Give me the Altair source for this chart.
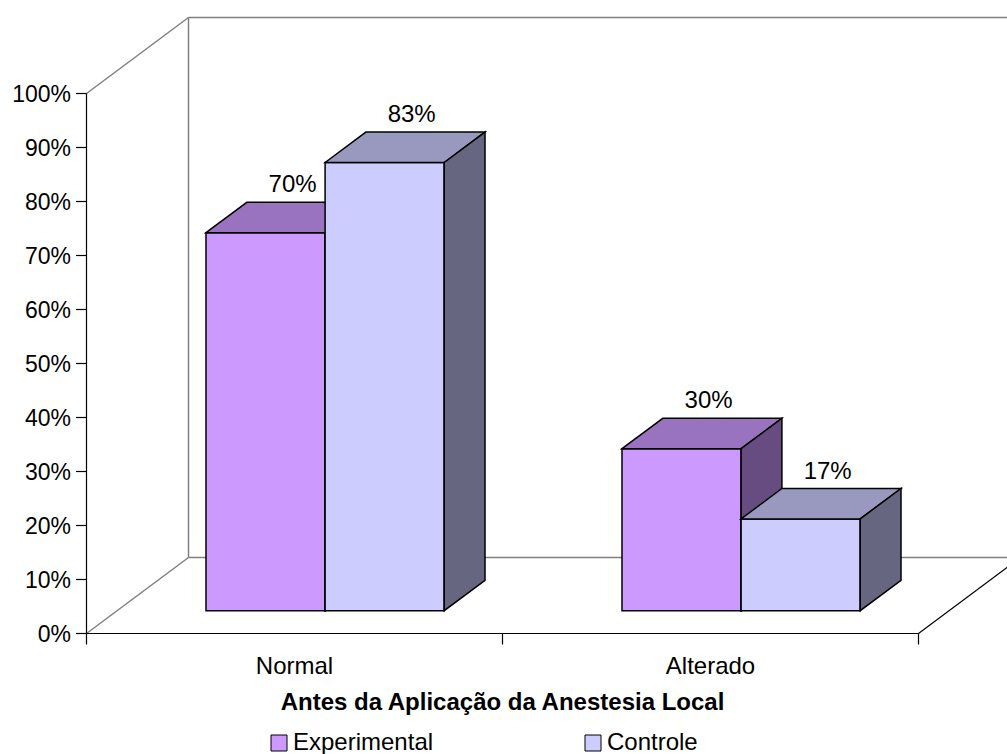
import altair as alt
import pandas as pd

# ---- data ----
categories = ["Normal", "Alterado"]
series = ["Experimental", "Controle"]
experimental = [70, 30]
controle = [83, 17]
y_ticks = [0, 10, 20, 30, 40, 50, 60, 70, 80, 90, 100]
x_title = "Antes da Aplicação da Anestesia Local"

values = {"Experimental": experimental, "Controle": controle}

# ---- 3D layout (pixels, converted to scale units where needed) ----
LEFT = 86                 # width of the area left of the value axis
W = 1007 - LEFT           # plot width
H = 754                   # plot height
ZERO_PX = 633.5           # pixel row of 0 %
PX = 5.4                  # pixels per percentage point
GROUP = 416               # width of one category slot
BAR_W = 119.1
GAP = (GROUP - 2 * BAR_W) / 2
WALL_DX = 102             # full depth of the floor (x, px)
WALL_DY = 76 / PX         # full depth of the floor (y, % units)
BAR_OFF = 0.3             # bars start 30 % into the depth
BAR_DEPTH = 0.4           # and take 40 % of it
B_DX = WALL_DX * BAR_OFF
B_DY = WALL_DY * BAR_OFF
D_DX = WALL_DX * BAR_DEPTH
D_DY = WALL_DY * BAR_DEPTH
X_END = GROUP * len(categories)
LINE_W = 1.5

front_fill = {"Experimental": "#CC99FF", "Controle": "#CCCCFF"}
top_fill = {"Experimental": "#9973BF", "Controle": "#9999BF"}
side_fill = {"Experimental": "#664C80", "Controle": "#666680"}

FONT = "Liberation Sans"

fronts, tops, sides, labels = [], [], [], []
for s_i, s in enumerate(series):
    for c_i, c in enumerate(categories):
        v = values[s][c_i]
        bid = f"{s}-{c}"
        x0 = B_DX + GROUP * c_i + GAP + BAR_W * s_i
        x1 = x0 + BAR_W
        yb = B_DY
        yt = B_DY + v
        fronts.append(dict(series=s, cat=c, x0=x0, x1=x1, yb=yb, yt=yt))
        tops += [
            dict(series=s, bar=bid, x=x0, y=yt, y2=yt),
            dict(series=s, bar=bid, x=x0 + D_DX, y=yt + D_DY, y2=yt),
            dict(series=s, bar=bid, x=x1, y=yt + D_DY, y2=yt),
            dict(series=s, bar=bid, x=x1 + D_DX, y=yt + D_DY, y2=yt + D_DY),
        ]
        sides += [
            dict(series=s, bar=bid, x=x1, y=yt, y2=yb),
            dict(series=s, bar=bid, x=x1 + D_DX, y=yt + D_DY, y2=yb + D_DY),
        ]
        labels.append(dict(series=s, x=(x0 + x1) / 2 + 27, y=yt + D_DY, text=f"{v}%"))

fronts = pd.DataFrame(fronts)
tops = pd.DataFrame(tops)
sides = pd.DataFrame(sides)
labels = pd.DataFrame(labels)

# half-pixel offset keeps the 1-px lines sharp
x_scale = alt.Scale(domain=[0, W], range=[0.5, W + 0.5], nice=False, zero=False)
y_scale = alt.Scale(domain=[(ZERO_PX - H) / PX, ZERO_PX / PX], nice=False, zero=False)

X = lambda f: alt.X(f, type="quantitative", scale=x_scale, axis=None)
Yq = lambda f: alt.Y(f, type="quantitative", scale=y_scale, axis=None)

# walls and floor outline
grey_lines = pd.DataFrame([
    dict(x=0, y=0, x2=WALL_DX, y2=WALL_DY),
    dict(x=0, y=100, x2=WALL_DX, y2=100 + WALL_DY),
    dict(x=WALL_DX, y=WALL_DY, x2=WALL_DX, y2=100 + WALL_DY),
    dict(x=WALL_DX, y=100 + WALL_DY, x2=WALL_DX + X_END, y2=100 + WALL_DY),
    dict(x=WALL_DX, y=WALL_DY, x2=WALL_DX + X_END, y2=WALL_DY),
])
tick_len = 11 / PX
black_lines = pd.DataFrame(
    [
        dict(x=0, y=0, x2=0, y2=100),
        dict(x=0, y=0, x2=X_END, y2=0),
        dict(x=X_END, y=0, x2=X_END + WALL_DX, y2=WALL_DY),
    ]
    + [dict(x=GROUP * k, y=0, x2=GROUP * k, y2=-tick_len) for k in range(len(categories) + 1)]
)

def rules(df, color, width):
    return alt.Chart(df).mark_rule(color=color, strokeWidth=width).encode(
        x=X("x"), y=Yq("y"), x2="x2", y2="y2"
    )

walls = rules(grey_lines, "#808080", LINE_W)
front_lines = rules(black_lines, "#000000", 1.2)

# value axis: tick marks and percentage labels
tick_df = pd.DataFrame({"v": y_ticks, "label": [f"{t}%" for t in y_ticks]})
y_tick_marks = alt.Chart(tick_df).mark_rule(color="#000000", strokeWidth=1.2).encode(
    x=alt.value(-10), x2=alt.value(0.5), y=Yq("v")
)
y_tick_labels = alt.Chart(tick_df).mark_text(
    font=FONT, fontSize=23, color="#000000", align="right", baseline="alphabetic", dx=-15, dy=8
).encode(x=alt.value(0), y=Yq("v"), text="label:N")

color_scale = alt.Scale(domain=series, range=[front_fill[s] for s in series])

bar_layers = []
for s in series:
    f = fronts[fronts.series == s]
    t = tops[tops.series == s]
    sd = sides[sides.series == s]
    front = alt.Chart(f).mark_rect(stroke="#000000", strokeWidth=LINE_W).encode(
        x=X("x0"), x2="x1", y=Yq("yb"), y2="yt",
        color=alt.Color(
            "series:N",
            scale=color_scale,
            legend=alt.Legend(
                title=None,
                orient="none",
                legendX=181,
                legendY=731,
                direction="horizontal",
                symbolType="square",
                symbolSize=256,
                symbolStrokeColor="#000000",
                symbolStrokeWidth=1,
                symbolOpacity=1,
                labelFontSize=24,
                labelFont=FONT,
                labelColor="#000000",
                labelOffset=2,
                columnPadding=147,
                padding=0,
            ),
        ),
    )
    top = alt.Chart(t).mark_area(fill=top_fill[s], stroke="#000000", strokeWidth=LINE_W, opacity=1).encode(
        x=X("x"), y=Yq("y"), y2="y2", detail="bar:N"
    )
    side = alt.Chart(sd).mark_area(fill=side_fill[s], stroke="#000000", strokeWidth=LINE_W, opacity=1).encode(
        x=X("x"), y=Yq("y"), y2="y2", detail="bar:N"
    )
    bar_layers += [front, top, side]

value_labels = alt.Chart(labels).mark_text(
    font=FONT, fontSize=24, color="#000000", baseline="alphabetic", align="center", dy=-10
).encode(x=X("x"), y=Yq("y"), text="text:N")

cat_df = pd.DataFrame({"cat": categories, "x": [GROUP * (i + 0.5) for i in range(len(categories))], "y": 0})
cat_labels = alt.Chart(cat_df).mark_text(
    font=FONT, fontSize=24, color="#000000", baseline="alphabetic", align="center", dy=40
).encode(x=X("x"), y=Yq("y"), text="cat:N")

title_df = pd.DataFrame({"t": [x_title], "x": [X_END / 2], "y": [0]})
title_layer = alt.Chart(title_df).mark_text(
    font=FONT, fontSize=24, fontWeight="bold", color="#000000", baseline="alphabetic", align="center", dy=76
).encode(x=X("x"), y=Yq("y"), text="t:N")

chart = alt.layer(
    walls, *bar_layers, front_lines, y_tick_marks, y_tick_labels,
    value_labels, cat_labels, title_layer
).properties(
    width=W,
    height=H,
    padding={"left": LEFT, "top": 0, "right": 0, "bottom": 0},
    autosize="none",
    background="#FFFFFF",
).configure(font=FONT, view=alt.ViewConfig(stroke=None))

chart.save("out.html", embed_options={"renderer": "svg", "actions": False})
